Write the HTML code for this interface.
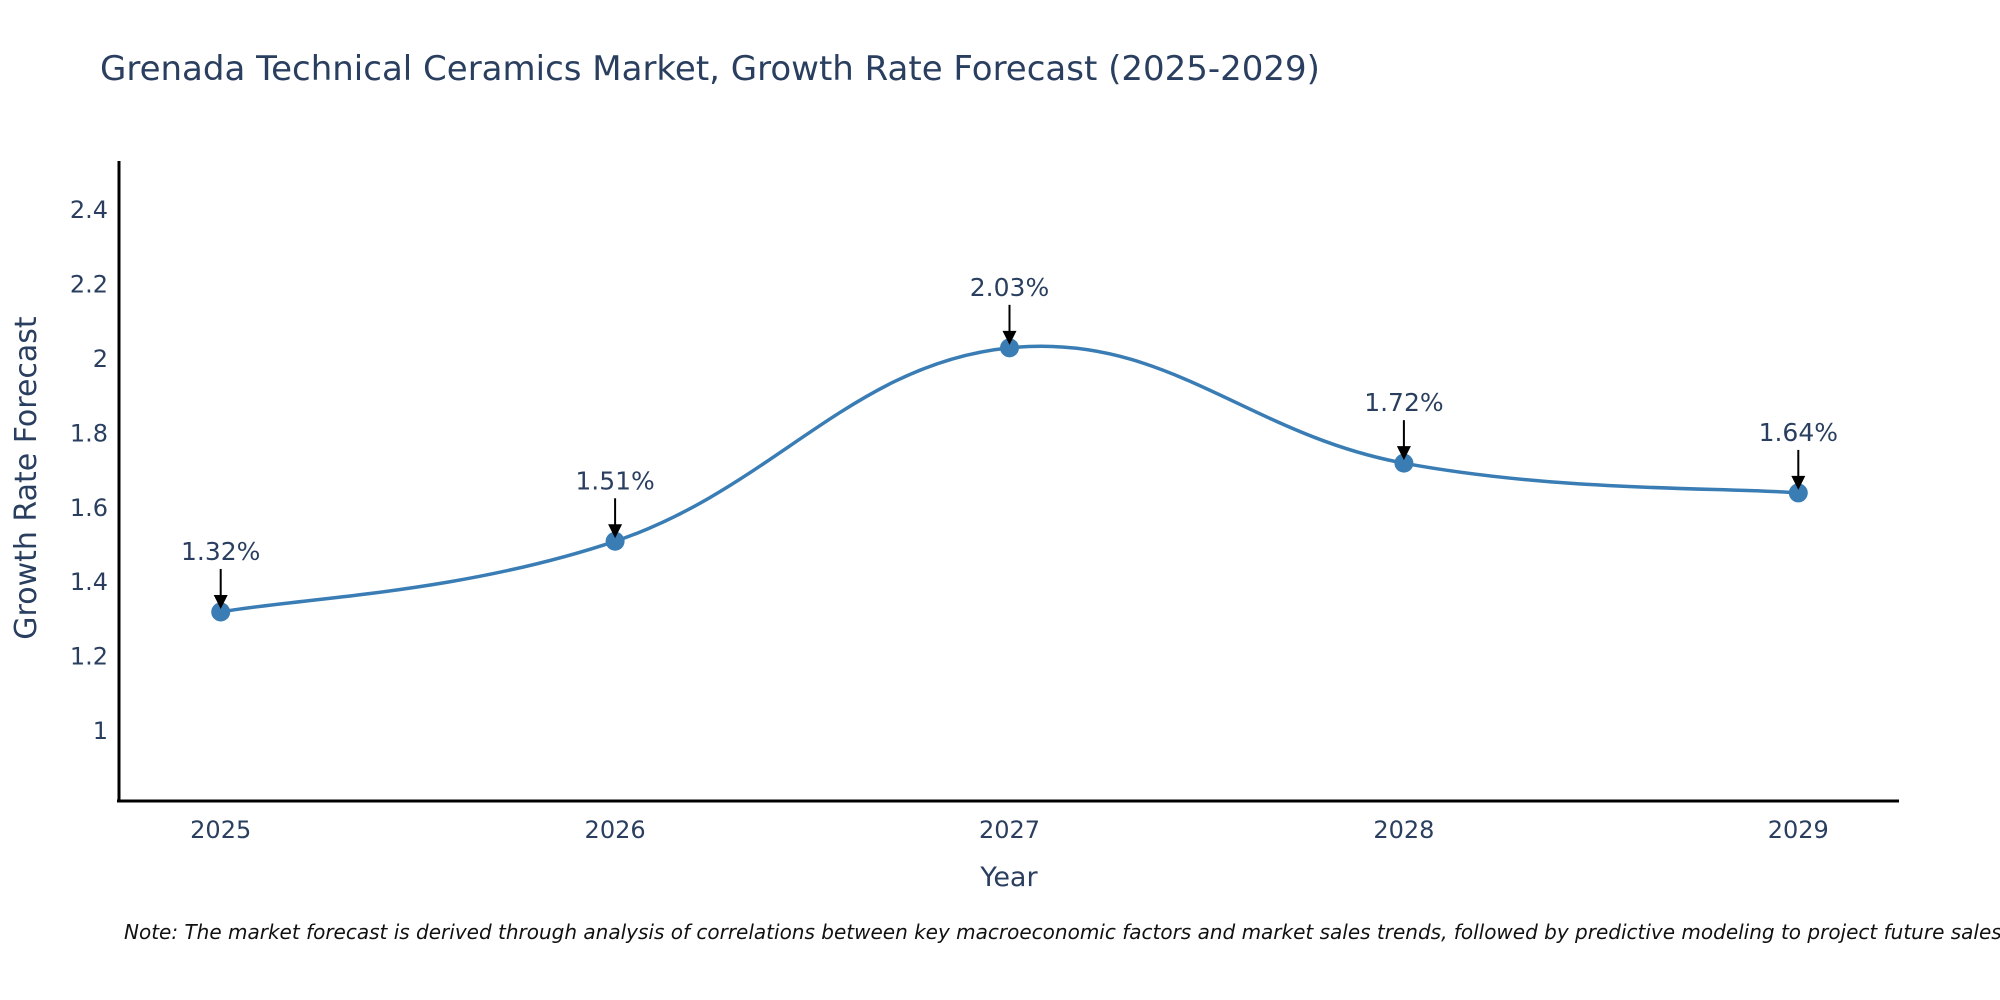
<!DOCTYPE html>
<html><head><meta charset="utf-8"><style>
html,body{margin:0;padding:0;background:#fff;width:2000px;height:1000px;overflow:hidden}
text{font-family:"DejaVu Sans","Liberation Sans",sans-serif;fill:#2a3f5f}
</style></head><body>
<svg id="chart" width="2000" height="1000" xmlns="http://www.w3.org/2000/svg">
<text x="100" y="80" font-size="34">Grenada Technical Ceramics Market, Growth Rate Forecast (2025-2029)</text>
<g id="yticks"></g>
<g id="xticks"></g>
<line x1="119" y1="161" x2="119" y2="802" stroke="#000" stroke-width="3"/>
<line x1="117" y1="801" x2="1899" y2="801" stroke="#000" stroke-width="3"/>
<path id="line" fill="none" stroke="#3a7db5" stroke-width="3.5"/>
<g id="points"></g>
<g id="annots"></g>
<text x="1009" y="886" font-size="27" text-anchor="middle">Year</text>
<text transform="translate(36,478) rotate(-90)" font-size="30" text-anchor="middle">Growth Rate Forecast</text>
<text x="124" y="939" font-size="20" font-style="italic" style="fill:#111">Note: The market forecast is derived through analysis of correlations between key macroeconomic factors and market sales trends, followed by predictive modeling to project future sales.</text>
</svg>
<script>
const years=[2025,2026,2027,2028,2029];
const values=[1.32,1.51,2.03,1.72,1.64];
const yTicks=[1,1.2,1.4,1.6,1.8,2,2.2,2.4];
const NS="http://www.w3.org/2000/svg";
function xs(i){return 220.7+i*394.4;}
function ys(v){return 731-(v-1)*372;}
function mk(tag,attrs,parent){const e=document.createElementNS(NS,tag);for(const k in attrs)e.setAttribute(k,attrs[k]);parent.appendChild(e);return e;}
const yt=document.getElementById('yticks');
yTicks.forEach(v=>{const t=mk('text',{x:108,y:ys(v)+8,'font-size':24,'text-anchor':'end'},yt);t.textContent=String(v);

});
const xt=document.getElementById('xticks');
years.forEach((y,i)=>{const t=mk('text',{x:xs(i),y:838,'font-size':24,'text-anchor':'middle'},xt);t.textContent=String(y);

});
const P=years.map((y,i)=>[xs(i),ys(values[i])]);
let d='M'+P[0][0]+','+P[0][1];
const s=0.2;
for(let i=0;i<P.length-1;i++){const p0=P[Math.max(i-1,0)],p1=P[i],p2=P[i+1],p3=P[Math.min(i+2,P.length-1)];
const c1=[p1[0]+(p2[0]-p0[0])*s,p1[1]+(p2[1]-p0[1])*s],c2=[p2[0]-(p3[0]-p1[0])*s,p2[1]-(p3[1]-p1[1])*s];
d+=' C'+c1+' '+c2+' '+p2;}
document.getElementById('line').setAttribute('d',d);
const pts=document.getElementById('points'),an=document.getElementById('annots');
P.forEach((p,i)=>{const c=mk('circle',{cx:p[0],cy:p[1],r:9.5,fill:'#3a7db5'},pts);


const l=mk('line',{x1:p[0],y1:p[1]-43,x2:p[0],y2:p[1]-16,stroke:'#000','stroke-width':2},an);


const h=mk('polygon',{points:(p[0]-7)+','+(p[1]-17)+' '+(p[0]+7)+','+(p[1]-17)+' '+p[0]+','+(p[1]-3),fill:'#000'},an);


const t=mk('text',{x:p[0],y:p[1]-52,'font-size':25,'text-anchor':'middle'},an);t.textContent=values[i].toFixed(2)+'%';

});
</script>
</body></html>
